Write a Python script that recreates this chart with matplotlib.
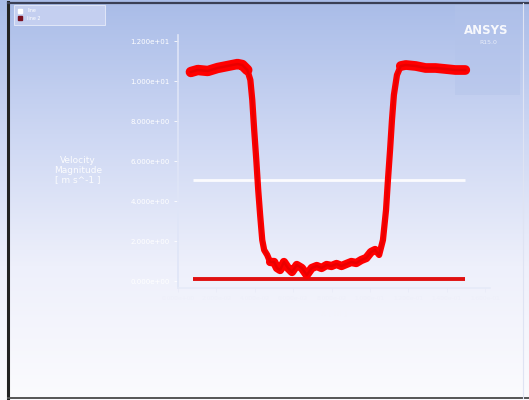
import numpy as np
import matplotlib
matplotlib.use("Agg")
import matplotlib.pyplot as plt
from matplotlib.colors import LinearSegmentedColormap
from matplotlib.patches import Rectangle

# Velocity profile along the sampling line
position = [0.0067, 0.0103, 0.0155, 0.0206, 0.0258, 0.0310, 0.0335, 0.0361,
            0.0377, 0.0387, 0.0397, 0.0408, 0.0418, 0.0428, 0.0439, 0.0449,
            0.0465, 0.0480, 0.0501, 0.0516, 0.0532, 0.0552, 0.0573, 0.0594,
            0.0619, 0.0645, 0.0671, 0.0697, 0.0723, 0.0748, 0.0774, 0.0800,
            0.0826, 0.0852, 0.0877, 0.0903, 0.0929, 0.0955, 0.0981, 0.1006,
            0.1027, 0.1048, 0.1068, 0.1084, 0.1094, 0.1105, 0.1115, 0.1125,
            0.1141, 0.1161, 0.1187, 0.1239, 0.1290, 0.1342, 0.1394, 0.1445,
            0.1497]
velocity = [10.45, 10.55, 10.50, 10.65, 10.75, 10.85, 10.80, 10.55,
            10.05, 9.05, 7.55, 6.05, 4.55, 3.30, 2.05, 1.55,
            1.30, 0.95, 0.95, 0.65, 0.55, 0.95, 0.65, 0.45,
            0.80, 0.65, 0.30, 0.65, 0.75, 0.65, 0.80, 0.75,
            0.85, 0.75, 0.85, 0.95, 0.90, 1.05, 1.15, 1.45,
            1.55, 1.30, 2.05, 3.55, 5.05, 6.55, 8.05, 9.30,
            10.30, 10.75, 10.80, 10.75, 10.65, 10.65, 10.60, 10.55,
            10.55]

# Reference lines
ref_x = [0.0077, 0.1497]
mean_velocity = [5.05, 5.05]
wall_velocity = [0.10, 0.10]

y_ticks = [0, 2, 4, 6, 8, 10, 12]
y_tick_labels = ["0.000e+00", "2.000e+00", "4.000e+00", "6.000e+00",
                 "8.000e+00", "1.000e+01", "1.200e+01"]
x_ticks = [0.00, 0.02, 0.04, 0.06, 0.08, 0.10, 0.12, 0.14, 0.16]
x_tick_labels = ["0.000e+00", "2.000e-02", "4.000e-02", "6.000e-02",
                 "8.000e-02", "1.000e-01", "1.200e-01", "1.400e-01",
                 "1.600e-01"]

W, H = 529, 400
fig = plt.figure(figsize=(W / 100, H / 100), dpi=100)

# Gradient viewport background
bg = fig.add_axes([0, 0, 1, 1])
grad = LinearSegmentedColormap.from_list(
    "vp", ["#fbfbfe", "#eef0fb", "#cdd7f3", "#a9bce8"])
bg.imshow(np.linspace(0, 1, 256).reshape(-1, 1), aspect="auto",
          cmap=grad, origin="lower", extent=[0, 1, 0, 1])
bg.set_xlim(0, 1)
bg.set_ylim(0, 1)
bg.axis("off")

def px(x, y):
    return x / W, 1 - y / H

# ANSYS badge
bx, by = px(455, 95)
bg.add_patch(Rectangle((bx, by), (520 - 455) / W, (95 - 5) / H,
                       color="#b3c3ea", alpha=0.45, lw=0))
bg.text(*px(486, 30), "ANSYS", color="white", fontsize=8.5,
        fontweight="bold", ha="center", va="center", alpha=0.9)
bg.text(*px(488, 43), "R15.0", color="white", fontsize=4.5,
        ha="center", va="center", alpha=0.7)

# Legend box
lx, ly = px(14, 25)
bg.add_patch(Rectangle((lx, ly), (105 - 14) / W, (25 - 5) / H,
                       facecolor="#c4cff0", edgecolor="#e8ecfa", lw=0.6))
bg.plot(*px(20, 11), marker="s", ms=2.2, color="white")
bg.plot(*px(20, 18), marker="s", ms=2.2, color="#7a1020")
bg.text(*px(27, 11), "line", color="white", fontsize=3.5, va="center")
bg.text(*px(27, 18), "line 2", color="white", fontsize=3.5, va="center")

# Window frame
bg.plot([8 / W, 8 / W], [0, 1 - 2 / H], color="#222222", lw=2.2)
bg.plot([8 / W, 1], [1 - 3 / H, 1 - 3 / H], color="#3a3f55", lw=1.6)
bg.plot([8 / W, 1], [1 - 398 / H, 1 - 398 / H], color="#555555", lw=1.4)
bg.plot([523 / W, 523 / W], [2 / H, 1 - 3 / H], color="#dfe3f3", lw=0.8)

# Chart axes
left, right = 178, 490
top, bottom = 35, 288
ax = fig.add_axes([left / W, 1 - bottom / H, (right - left) / W,
                   (bottom - top) / H])
ax.patch.set_alpha(0)
x_lo = 0.16 * (left - 175) / 310
x_hi = 0.16 * (right - 175) / 310
ax.set_xlim(x_lo, x_hi)
ax.set_ylim((281 - bottom) / 20, (281 - top) / 20)

ax.plot(ref_x, mean_velocity, color="white", lw=2.0, alpha=0.9,
        solid_capstyle="butt")
ax.plot(ref_x, wall_velocity, color="#e01010", lw=2.8, solid_capstyle="butt")
ax.plot(position, velocity, color="#ff0000", lw=4.5,
        solid_joinstyle="round", solid_capstyle="round")
# Plateau bands are noisier, so they read thicker
ax.plot(position[:8], velocity[:8], color="#ff0000", lw=7.5,
        solid_capstyle="round")
ax.plot(position[49:], velocity[49:], color="#ff0000", lw=7.0,
        solid_capstyle="round")
ax.plot(position[17:41], velocity[17:41], color="#ff0000", lw=6.0,
        solid_capstyle="round")
ax.plot(position, velocity, color="#e00000", lw=1.8, alpha=0.7)

for s in ["top", "right"]:
    ax.spines[s].set_visible(False)
ax.spines["left"].set_color("#dfe5f7")
ax.spines["bottom"].set_color("#e6eaf8")
ax.spines["left"].set_linewidth(1.2)
ax.spines["bottom"].set_linewidth(1.2)

ax.set_yticks(y_ticks)
ax.set_yticklabels(y_tick_labels)
ax.set_xticks(x_ticks)
ax.set_xticklabels(x_tick_labels)
ax.tick_params(colors="white", labelsize=5.0, length=3, width=0.6,
               labelcolor="white", pad=3)
ax.tick_params(axis="x", colors="#e9ecf8", labelcolor="#eef0fa",
               labelsize=4.2)

ax.set_xlabel("X [ m ]", color="#f2f3fb", fontsize=5.5, labelpad=5)
fig.text(78 / W, 1 - 170 / H, "Velocity\nMagnitude\n[ m s^-1 ]",
         color="white", fontsize=6.5, ha="center", va="center",
         linespacing=1.1, alpha=0.9)

fig.savefig("out.png", dpi=100)
